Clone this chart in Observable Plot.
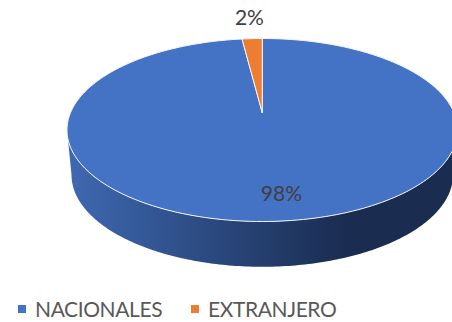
<!DOCTYPE html>
<html><head><meta charset="utf-8">
<script src="https://cdn.jsdelivr.net/npm/d3@7"></script>
<script src="https://cdn.jsdelivr.net/npm/@observablehq/plot@0.6"></script>
<style>
html,body{margin:0;padding:0;background:#fff;width:452px;height:322px;overflow:hidden}
svg{display:block}
#legend{position:relative;height:32px;font:21px Lato,sans-serif;letter-spacing:-.4px;color:#595959}
#legend span{position:absolute;white-space:nowrap}
#legend i{position:absolute;width:8px;height:8px;display:block}
</style></head><body>
<div id="chart"></div><div id="legend"></div>
<script>
const categories = ["NACIONALES", "EXTRANJERO"];
const shares = [98, 2];
const labels = ["98%", "2%"];
const colors = ["#4472c4", "#ed7d31"];
const sideStops = [[0, "#3f69b2"], [0.5, "#243e6d"], [0.72, "#1a2c50"], [1, "#1a2c50"]];

// perspective of the disc: where the pie's centre falls inside the top ellipse
const tilt = 0.19;
const project = (angle, r = 1) => {
  const u = r * Math.sin(angle), v = r * Math.cos(angle);
  const d = 1 + tilt * v;
  return {x: u * Math.sqrt(1 - tilt * tilt) / d, y: (v + tilt) / d};
};
const arcs = d3.pie().sort(null)(shares);
const wedges = arcs.flatMap((a, i) => {
  const n = Math.max(2, Math.ceil((a.endAngle - a.startAngle) * 40));
  const rim = d3.range(n + 1).map(k => project(a.startAngle + (a.endAngle - a.startAngle) * k / n));
  const apex = project(0, 0);
  return [apex, ...rim, apex].map(p => ({...p, name: categories[i]}));
});
// front wall of the disc: front half of the top rim, back along a lower, slightly smaller rim
const drop = 0.49, shrink = 0.977;
const half = d3.range(0, 181).map(d => d * Math.PI / 180);
const side = [
  ...half.map(t => ({x: -Math.cos(t), y: -Math.sin(t)})),
  ...half.slice().reverse().map(t => ({x: -Math.cos(t) * shrink, y: -Math.sin(t) * 1.005 - drop}))
];
const labelRows = arcs.map((a, i) => {
  const mid = (a.startAngle + a.endAngle) / 2;
  return {...project(mid, i === 0 ? 0.79 : 1.34), text: labels[i]};
});
const defs = () => {
  const ns = "http://www.w3.org/2000/svg";
  const d = document.createElementNS(ns, "defs");
  const g = document.createElementNS(ns, "linearGradient");
  g.setAttribute("id", "sideGrad");
  for (const [o, c] of sideStops) {
    const s = document.createElementNS(ns, "stop");
    s.setAttribute("offset", o); s.setAttribute("stop-color", c);
    g.appendChild(s);
  }
  d.appendChild(g);
  return d;
};
const chart = Plot.plot({
  width: 452, height: 290, margin: 0,
  style: {background: "#fff", overflow: "hidden"},
  x: {domain: [-1, 1], range: [66.5, 457], axis: null},
  y: {domain: [1, -1], range: [38, 221], axis: null},
  color: {domain: categories, range: colors},
  marks: [
    defs,
    Plot.line(side, {x: "x", y: "y", fill: "url(#sideGrad)", stroke: "none"}),
    Plot.line(wedges, {x: "x", y: "y", z: "name", fill: "name", stroke: "#f4f6fa", strokeWidth: 1, strokeLinejoin: "miter"}),
    Plot.text(labelRows.slice(0, 1), {x: "x", y: "y", text: "text", dx: 8, fontFamily: "Lato", fontSize: 21, fill: "#404040"}),
    Plot.text(labelRows.slice(1), {x: "x", y: "y", text: "text", fontFamily: "Lato", fontSize: 21, fill: "#404040"})
  ]
});
document.getElementById("chart").appendChild(chart);
const legend = document.getElementById("legend");
const legendX = [18, 191];
categories.forEach((c, i) => {
  const sw = document.createElement("i");
  sw.style.cssText = `left:${legendX[i]}px;top:15px;background:${colors[i]}`;
  const t = document.createElement("span");
  t.style.cssText = `left:${legendX[i] + 17}px;top:6px`;
  t.textContent = c;
  legend.append(sw, t);
});
</script></body></html>
